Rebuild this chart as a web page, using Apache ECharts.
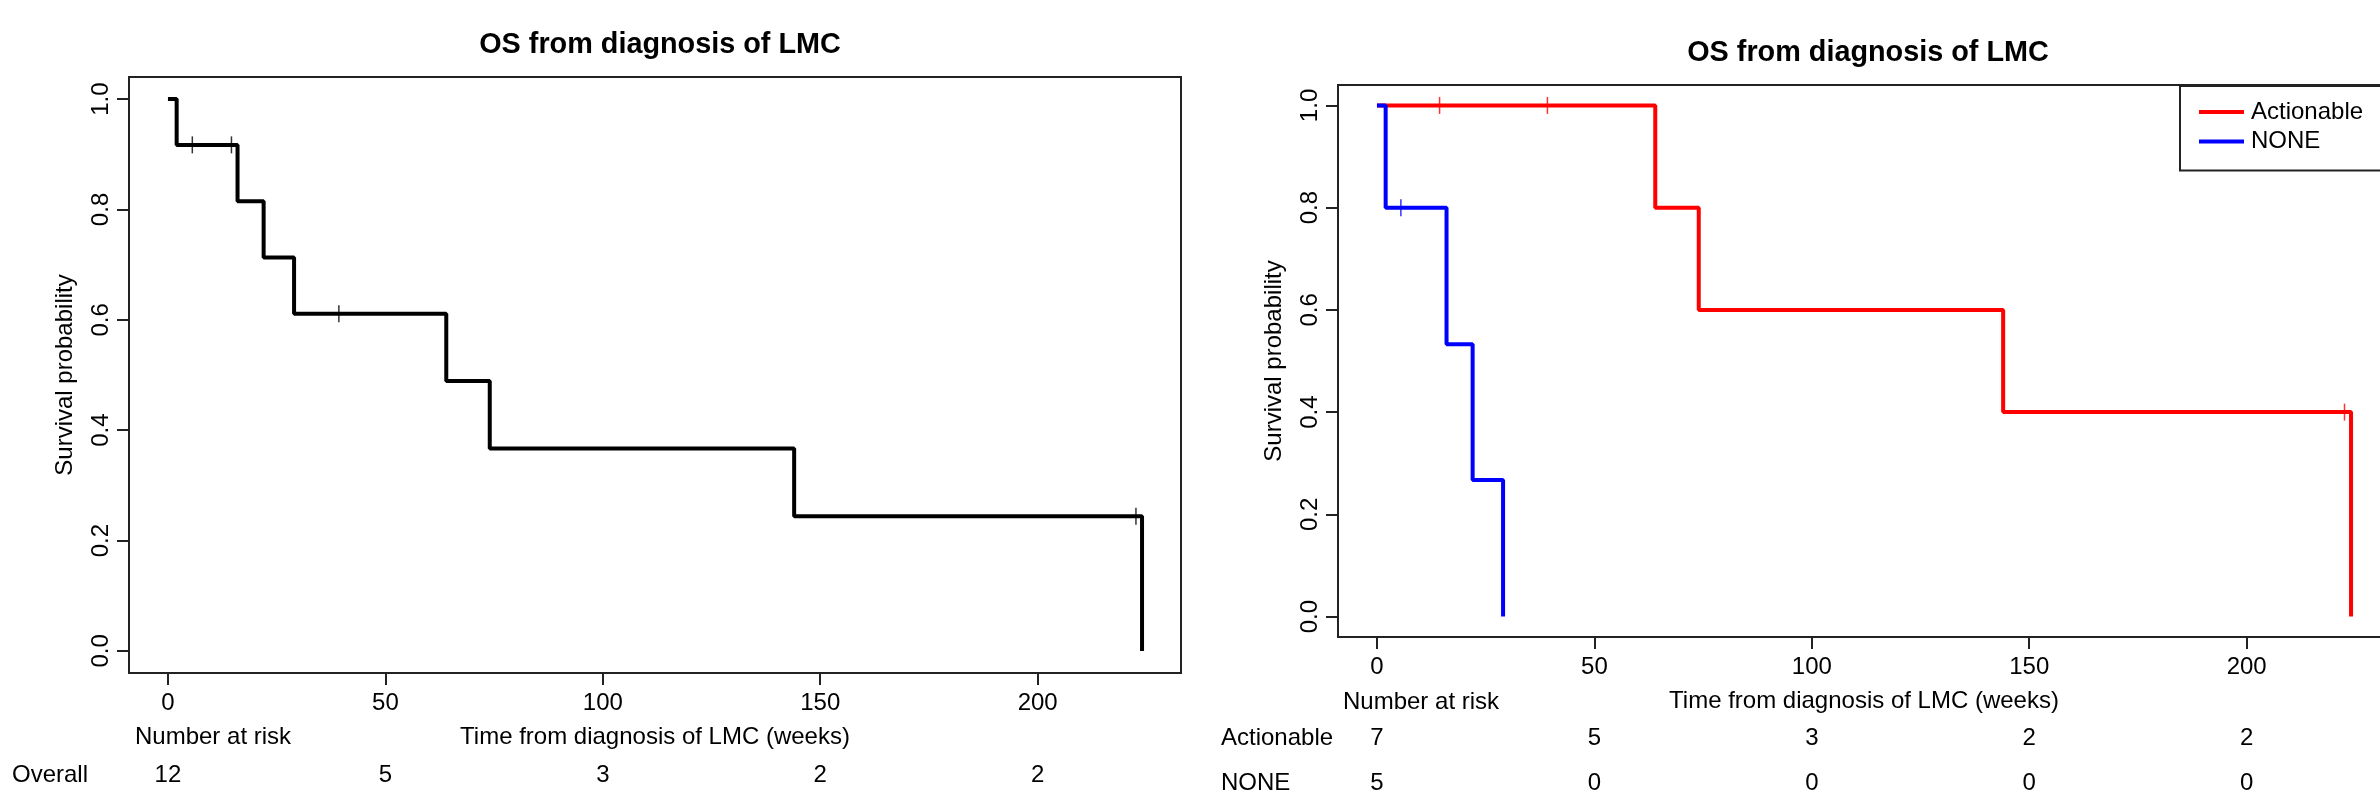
<!DOCTYPE html>
<html lang="en">

<head>
    <meta charset="UTF-8">
    <title>OS from diagnosis of LMC</title>
    <style>
        html, body { margin: 0; padding: 0; background: #fff; }
    </style>
</head>

<body>
    <div id="main" style="width:2380px;height:798px;"></div>
    <script src="https://cdn.jsdelivr.net/npm/echarts@6/dist/echarts.min.js"></script>
    <script>
        // tick positions
        var xTicks = [0, 50, 100, 150, 200];
        var yTicks = [0, 0.2, 0.4, 0.6, 0.8, 1.0];

        // overall KM curve
        var overallTime = [0, 2, 16, 22, 29, 64, 74, 144, 224];
        var overallSurv = [1, 0.917, 0.815, 0.713, 0.611, 0.489, 0.367, 0.244, 0];
        var overallCensTime = [5.6, 14.6, 39.3, 222.6];
        var overallCensSurv = [0.917, 0.917, 0.611, 0.244];

        // by group
        var actTime = [0, 64, 74, 144, 224];
        var actSurv = [1, 0.8, 0.6, 0.4, 0];
        var actCensTime = [14.4, 39.2, 222.5];
        var actCensSurv = [1, 1, 0.4];
        var noneTime = [0, 2, 16, 22, 29];
        var noneSurv = [1, 0.8, 0.533, 0.267, 0];
        var noneCensTime = [5.5];
        var noneCensSurv = [0.8];

        // number at risk
        var riskOverall = [12, 5, 3, 2, 2];
        var riskAct = [7, 5, 3, 2, 2];
        var riskNone = [5, 0, 0, 0, 0];

        var FONT = "'Liberation Sans', Arial, sans-serif";
        var myChart = echarts.init(document.getElementById('main'));

        function pairs(xs, ys) {
            var out = [];
            for (var i = 0; i < xs.length; i++) out.push([xs[i], ys[i]]);
            return out;
        }

        function xAxisFor(gridIndex, labelFn, rich, margin, nameGap) {
            return {
                type: 'value',
                gridIndex: gridIndex,
                min: -8.96,
                max: 232.96,
                name: 'Time from diagnosis of LMC (weeks)',
                nameLocation: 'middle',
                nameGap: nameGap,
                nameMoveOverlap: false,
                nameTextStyle: { fontSize: 24, fontFamily: FONT, color: '#000' },
                axisLine: { show: false, onZero: false },
                splitLine: { show: false },
                axisTick: { show: true, customValues: xTicks, length: 12, lineStyle: { color: '#222', width: 2 } },
                axisLabel: {
                    customValues: xTicks,
                    margin: margin,
                    fontFamily: FONT,
                    color: '#000',
                    formatter: labelFn,
                    rich: rich
                }
            };
        }

        function yAxisFor(gridIndex) {
            return {
                type: 'value',
                gridIndex: gridIndex,
                min: -0.04,
                max: 1.04,
                name: 'Survival probability',
                nameLocation: 'middle',
                nameRotate: 90,
                nameGap: 52,
                nameMoveOverlap: false,
                nameTextStyle: { fontSize: 24, fontFamily: FONT, color: '#000' },
                axisLine: { show: false, onZero: false },
                splitLine: { show: false },
                axisTick: { show: true, customValues: yTicks, length: 12, lineStyle: { color: '#222', width: 2 } },
                axisLabel: {
                    customValues: yTicks,
                    rotate: 90,
                    margin: 16,
                    fontSize: 24,
                    fontFamily: FONT,
                    color: '#000',
                    formatter: function (v) { return v.toFixed(1); }
                }
            };
        }

        var option = {
            backgroundColor: '#fff',
            animation: false,
            title: [{
                text: 'OS from diagnosis of LMC',
                left: 655,
                top: 26,
                textAlign: 'center',
                textStyle: { fontSize: 28.8, fontWeight: 'bold', fontFamily: FONT, color: '#000' }
            }, {
                text: 'OS from diagnosis of LMC',
                left: 1863,
                top: 34,
                textAlign: 'center',
                textStyle: { fontSize: 28.8, fontWeight: 'bold', fontFamily: FONT, color: '#000' }
            }],
            legend: {
                data: [
                    { name: 'Actionable', icon: 'rect', itemStyle: { color: '#ff0000' } },
                    { name: 'NONE', icon: 'rect', itemStyle: { color: '#0000ff' } }
                ],
                orient: 'vertical',
                left: 2180,
                top: 86,
                itemWidth: 45,
                itemHeight: 4,
                itemGap: 3.4,
                padding: [13, 30, 16, 19],
                borderColor: '#222',
                borderWidth: 2,
                backgroundColor: '#fff',
                selectedMode: false,
                textStyle: { fontSize: 24, lineHeight: 26, fontFamily: FONT, color: '#000', padding: [0, 0, 0, 2] }
            },
            grid: [{
                left: 129,
                top: 77,
                width: 1052,
                height: 596,
                show: true,
                borderColor: '#222',
                borderWidth: 2,
                outerBoundsMode: 'none'
            }, {
                left: 1338,
                top: 85,
                width: 1052,
                height: 552,
                show: true,
                borderColor: '#222',
                borderWidth: 2,
                outerBoundsMode: 'none'
            }],
            xAxis: [
                xAxisFor(0, function (v) {
                    var i = xTicks.indexOf(v);
                    return '{t|' + v + '}\n{g| }\n{t|' + riskOverall[i] + '}';
                }, {
                    t: { fontSize: 24, lineHeight: 30, fontFamily: FONT, color: '#000' },
                    g: { fontSize: 10, lineHeight: 42 }
                }, 15, 52),
                xAxisFor(1, function (v) {
                    var i = xTicks.indexOf(v);
                    return '{t|' + v + '}\n{g| }\n{t|' + riskAct[i] + '}\n{u|' + riskNone[i] + '}';
                }, {
                    t: { fontSize: 24, lineHeight: 30, fontFamily: FONT, color: '#000' },
                    g: { fontSize: 10, lineHeight: 41.6 },
                    u: { fontSize: 24, lineHeight: 58.8, fontFamily: FONT, color: '#000' }
                }, 15, 52)
            ],
            yAxis: [yAxisFor(0), yAxisFor(1)],
            graphic: [
                { type: 'text', x: 135, y: 737, style: { text: 'Number at risk', fontSize: 24, fontFamily: FONT, fill: '#000', verticalAlign: 'middle' } },
                { type: 'text', x: 12, y: 775, style: { text: 'Overall', fontSize: 24, fontFamily: FONT, fill: '#000', verticalAlign: 'middle' } },
                { type: 'text', x: 1343, y: 702, style: { text: 'Number at risk', fontSize: 24, fontFamily: FONT, fill: '#000', verticalAlign: 'middle' } },
                { type: 'text', x: 1221, y: 738, style: { text: 'Actionable', fontSize: 24, fontFamily: FONT, fill: '#000', verticalAlign: 'middle' } },
                { type: 'text', x: 1221, y: 783, style: { text: 'NONE', fontSize: 24, fontFamily: FONT, fill: '#000', verticalAlign: 'middle' } }
            ],
            series: [{
                name: 'Overall',
                type: 'line',
                xAxisIndex: 0,
                yAxisIndex: 0,
                step: 'end',
                showSymbol: false,
                lineStyle: { color: '#000', width: 4 },
                data: pairs(overallTime, overallSurv)
            }, {
                name: 'Overall censored',
                type: 'scatter',
                xAxisIndex: 0,
                yAxisIndex: 0,
                symbol: 'rect',
                symbolSize: [1.5, 17],
                itemStyle: { color: '#000' },
                data: pairs(overallCensTime, overallCensSurv)
            }, {
                name: 'Actionable',
                type: 'line',
                xAxisIndex: 1,
                yAxisIndex: 1,
                step: 'end',
                showSymbol: false,
                lineStyle: { color: '#ff0000', width: 4 },
                itemStyle: { color: '#ff0000' },
                data: pairs(actTime, actSurv)
            }, {
                name: 'NONE',
                type: 'line',
                xAxisIndex: 1,
                yAxisIndex: 1,
                step: 'end',
                showSymbol: false,
                lineStyle: { color: '#0000ff', width: 4 },
                itemStyle: { color: '#0000ff' },
                data: pairs(noneTime, noneSurv)
            }, {
                name: 'Actionable censored',
                type: 'scatter',
                xAxisIndex: 1,
                yAxisIndex: 1,
                symbol: 'rect',
                symbolSize: [1.5, 17],
                itemStyle: { color: '#ff0000' },
                data: pairs(actCensTime, actCensSurv)
            }, {
                name: 'NONE censored',
                type: 'scatter',
                xAxisIndex: 1,
                yAxisIndex: 1,
                symbol: 'rect',
                symbolSize: [1.5, 17],
                itemStyle: { color: '#0000ff' },
                data: pairs(noneCensTime, noneCensSurv)
            }]
        };
        myChart.setOption(option);
    </script>
</body>

</html>
